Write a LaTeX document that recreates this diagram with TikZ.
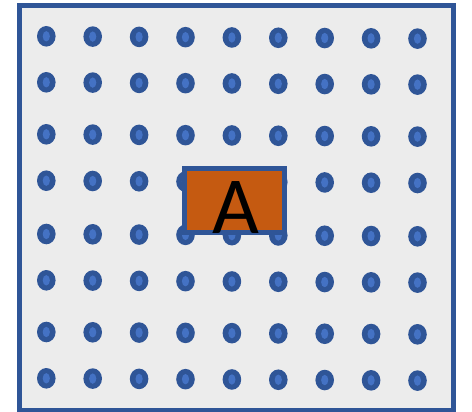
\documentclass[tikz,border=0pt]{standalone}
\usepackage{fontspec}
\usepackage{xcolor}
\newfontfamily\boxfont{Carlito}

\begin{document}
\begin{tikzpicture}[x=1pt,y=-1pt]
  \definecolor{framebl}{RGB}{47,85,151}
  \definecolor{dotlight}{RGB}{68,114,196}
  \definecolor{bggray}{RGB}{236,236,236}
  \definecolor{boxorange}{RGB}{197,90,17}
  \tikzset{gridbox/.style={draw=framebl,line width=5pt,fill=boxorange,minimum width=100pt,minimum height=64.3pt,inner sep=0pt}}
  \useasboundingbox (0,0) rectangle (472,412);
  \draw[framebl,line width=5pt,fill=bggray] (19.5,5.5) rectangle (453.5,410);
  % dots, rows slightly tilted
  \foreach \rowy in {36.3,82.3,134.3,180.7,234,280.3,332,378.3} {
    \foreach \col in {0,...,8} {
      \fill[framebl] (46.3+46.4*\col,\rowy+0.29*\col) ellipse (9.3 and 10.3);
      \fill[dotlight] (46.3+46.4*\col,\rowy+0.29*\col) ellipse (3.6 and 5.2);
    }
  }
  \node[gridbox] (boxA) at (234.8,200.4) {};
  \node[font=\boxfont\fontsize{81}{81}\selectfont,anchor=base,inner sep=0pt] (letterA) at (236,233.3) {A};
\end{tikzpicture}
\end{document}
